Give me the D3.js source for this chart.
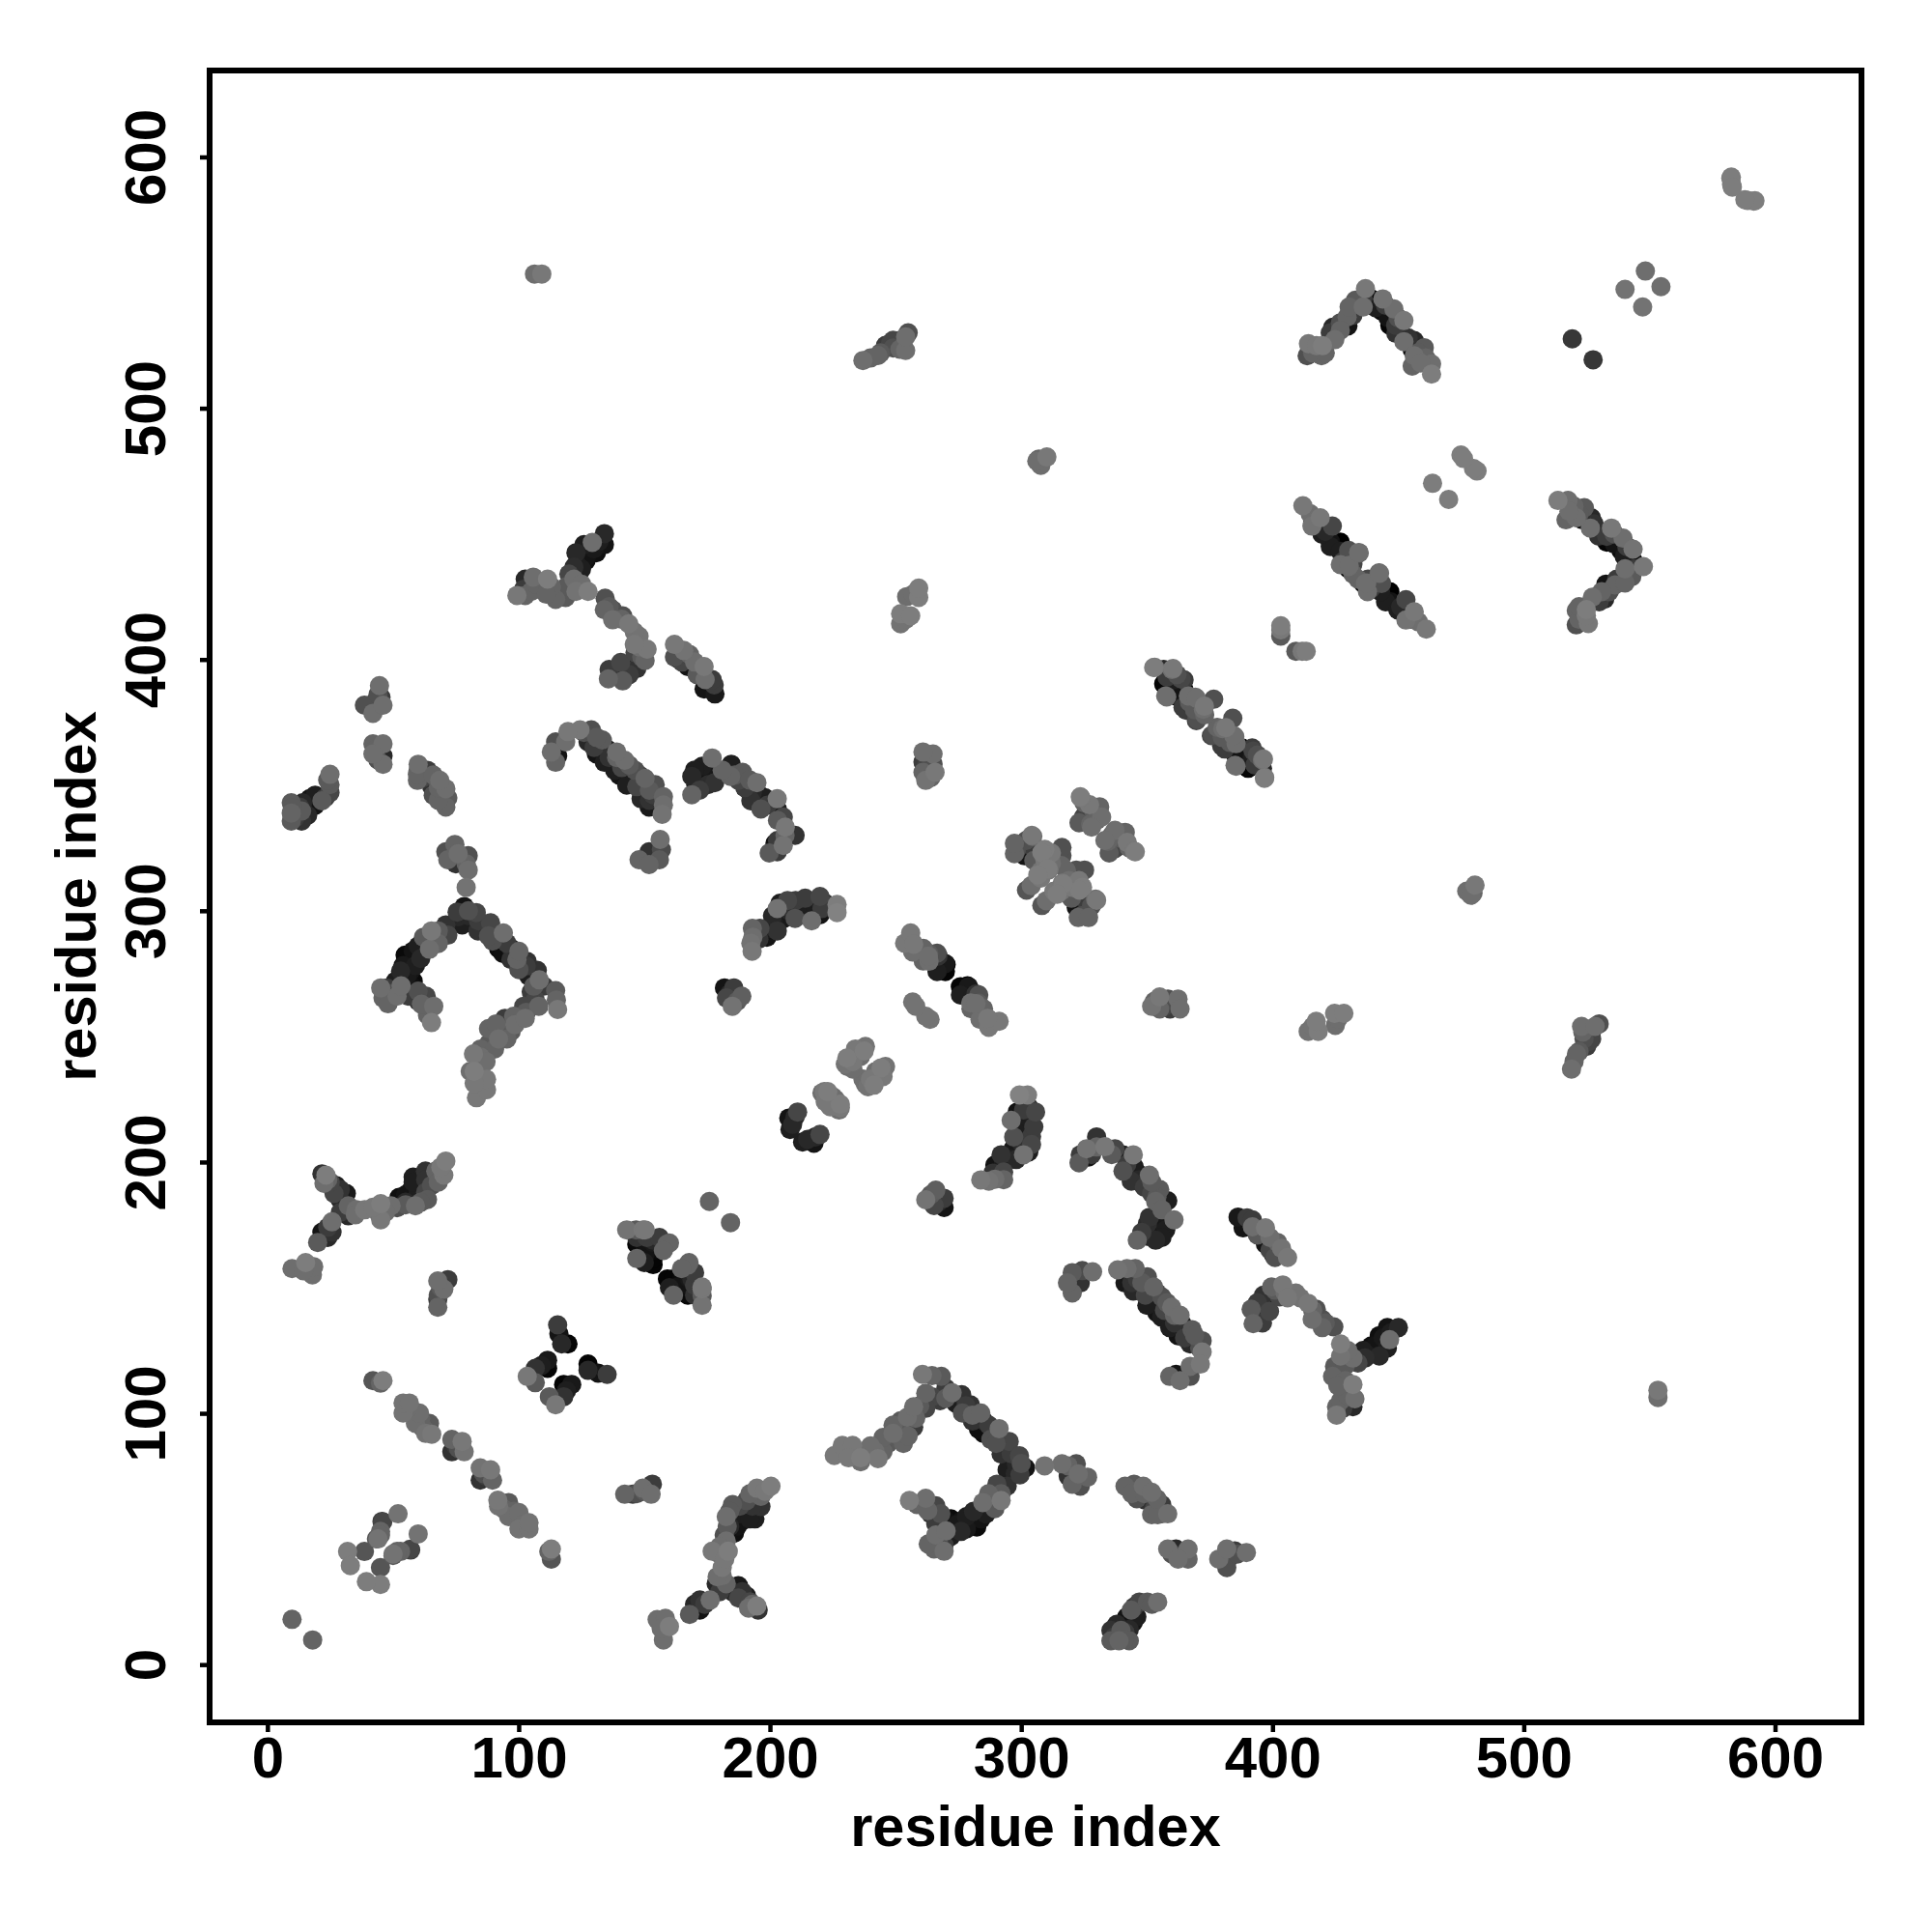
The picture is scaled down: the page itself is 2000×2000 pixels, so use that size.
<!DOCTYPE html>
<html><head><meta charset="utf-8">
<script src="https://cdn.jsdelivr.net/npm/d3@7"></script>
<style>html,body{margin:0;background:#fff}svg{display:block}text{font-family:"Liberation Sans",Arial,sans-serif;font-weight:bold;fill:#000}</style>
</head><body><svg id="c" width="2000" height="2000"></svg>
<script>
// Each contact is [residue i, residue j, grey level]; the map is symmetric, so each is also plotted as (j, i).
const tickValues = [0,100,200,300,400,500,600];
const axisTitle = "residue index";
const nearPairs = [[18,9.8,100],[184.3,175.9,100],[527.6,519.3,55],[554.6,548.4,110],[547.3,540.3,115],[591.5,582.4,125],[589.1,582.7,125],[592,582.6,125],[588,583,125],[481.4,475,125],[480,476,125],[470.1,463.7,125],[411.8,403.3,120],[409.3,403.3,90],[413.4,403.3,125],[553.4,109.2,120],[553.4,106.3,110],[477.3,307.8,110],[480.6,310.2,120],[479.8,307,100],[479,306.2,110]];
const groupB = [[45,31.9,125],[39.4,33,125],[45,38.6,85],[50,44,115],[53,45,100],[57,45.6,60],[60,52,115],[50,43.4,90],[51.6,45,100],[56.8,45.9,70]];
const groupC = [[113,42,85],[113,46,125],[112,45,100],[84.7,73.4,50],[89.6,73.4,100],[84.7,78.3,115],[88.8,77.5,120],[91.7,65.4,120],[96,64.5,90],[92,63,115],[96,58.9,110],[100.1,60.5,110],[100.1,54,115],[104.1,54,115],[104.1,56.5,115],[86,76,80],[94,62,100],[98,61,100],[102,56,110],[87,75,60]];
const groupD = [[142.2,67.8,100],[145.4,67.8,60],[149.4,70.2,110],[152.7,67.8,110],[153.2,71.8,60],[147,68,80],[150,69,90]];
const groupE = [[155.1,17.9,110],[158.4,18.4,110],[157.6,9.8,110],[156.7,14.4,110],[160,15.2,125],[168,20,90],[172.1,25.7,50],[172.1,21.7,20],[176.2,25.7,110],[178.6,32.2,40],[182.6,32.2,100],[187.5,26.5,70],[187.5,31.4,25],[190.7,27.3,30],[195.3,21.7,50],[191.5,22.5,110],[194.8,23.3,125],[181,35.4,110],[181,38.7,120],[177,45.1,120],[179.4,44.3,110],[183.4,45.1,125],[181.8,51.6,80],[182.6,49.2,110],[185.9,52.4,15],[185.1,63.7,90],[182.6,58.9,110],[185.1,59.7,10],[189.1,57.3,20],[194,58,30],[191.5,61.3,10],[190.7,65.3,80],[196.4,62.9,50],[196.4,67,100],[194.8,70.2,120],[200.4,71,125],[170,24,40],[174,24,60],[180,29,60],[185,29,40],[189,29,50],[192,25,70],[193,24,100],[179,35,110],[182,42,120],[180,47,110],[184,55,40],[187,55,20],[188,60,30],[192,58,30],[193,63,50],[188,63,70],[184,61,90],[192,68,100],[198,69,120],[183,55,90]];
const groupF = [[114.7,103.4,120],[112.2,106.6,90],[117.9,106.6,50],[119,109,30],[117.9,111.5,5],[121.1,111.5,25],[127.6,117.1,40],[127.6,119.6,5],[131.6,116,20],[135.2,115.5,60]];
const groupG = [[173,143,115],[173,146.7,90],[173,149.5,120],[173,150.3,120],[168.9,153.5,40],[168,153.5,25],[167.8,160,100],[167.3,159,100],[166.5,147.9,10],[167.3,147,5],[162.4,149.5,15],[163.2,150.3,20],[159.2,153.5,5],[161.6,153.5,5],[161.6,147,100],[164.8,157.6,100],[170,147,50],[170,151,60],[165,150,15],[165,154,10],[160,150,30],[170,156,60]];
const groupO = [[217.5,207.5,20],[218,210,40],[219.9,211,70],[227.5,220.7,110],[228,223,125],[228,221.6,120],[238,231,110],[239,230,115],[241,232,120],[243,234,110],[244.2,237.5,125],[241.4,230.6,125],[213,208,30],[215,209,40],[224,222,120],[226,225,110],[240,233,120],[245,234,120],[237,233,110],[242,236,110],[246,238,115]];
const groupP = [[263.7,256.8,115],[283.6,256.8,110],[287.1,253.6,120],[287.1,256.8,110],[291.2,256,120],[279.9,263.3,110],[283,263.2,90],[282,263,110],[275.8,266.5,30],[276.2,266.9,10],[280.7,265.7,30],[283.1,266.5,80],[282,266.9,50],[275.8,269.8,5],[279,269.8,25],[278.6,270.1,0],[286.7,257.2,120],[285,261,100],[280,261,100],[279,267,15],[262,258,115]];
const groupQ = [[345.4,323.5,125],[342.2,327.2,120],[341.4,331.2,100],[337.3,332,110],[337.3,324.8,70],[333.3,328,110],[341,331,80],[337.7,325.2,30],[334.5,327.6,100],[345,323.7,120],[343,325,100],[339,329,90],[336,330,100],[335,323,90]];
const groupQ2 = [[322.7,297.3,100],[326.8,297.3,100],[326,300.5,0],[321.9,301.3,20],[326.4,299.3,5],[326,303.7,60],[330,304.2,120],[324.4,309.4,125],[320.3,309.4,120],[308.2,302.1,85],[313,307.8,120],[315.9,307.8,115],[316.3,311,120],[321.9,316.2,80],[325.2,316.2,80],[323.2,308.2,125],[316.7,310.6,125],[314.3,306.6,125],[329.6,304.6,110],[318,316,100],[310,304,110],[319,312,110],[323,312,120],[320,305,90],[328,302,80],[324,298,80]];
const groupR = [[376.2,370,80],[380.2,372.5,110],[384.2,376.6,80],[385,369.3,110],[381,364.4,60],[385.1,362.8,20],[387.5,364.4,5],[389.1,361.2,5],[392.3,363.6,70],[385.1,357.9,110],[389.9,357.1,5],[396.4,360.4,120],[396.9,353.1,120],[396.8,352.7,125],[396,356.7,40],[396,360,110],[390.3,356.7,5],[391.9,360.8,30],[391.9,364.8,60],[387.9,364.8,5],[385.5,361.6,10],[385.5,357.5,110],[385.5,366.5,110],[384.6,369.7,110],[381.4,372.9,120],[379.8,365.6,60],[375.7,369.7,70],[383,367,90],[388,360,20],[393,358,60],[378,373,100],[394,362,80],[380,369,90]];
const groupS = [[351.9,262,115],[355.1,265.7,120],[358.4,264.9,80],[355.1,260.9,100],[359.2,260.9,60],[362.4,264.9,110],[363.2,260.9,110],[357,262,70],[361,263,50],[353,264,100]];
const groupT = [[414.2,252,115],[418.2,252,125],[417.4,256,125],[425,254.4,110],[424.7,259.2,125],[428.4,259.2,125],[416,254,115],[426,257,110]];
const groupU = [[519,237,110],[520,240,100],[522,244,90],[525,246,60],[527,249,70],[527,252,40],[523,254,110],[523.5,251.7,100],[530,255,80],[528.4,254,110],[526,248,70],[521,243,100],[524,249,80]];
const groupI = [[260.7,115.5,120],[264.5,115,100],[268.2,114.7,90],[264.5,106.6,70],[267.7,105,60],[272.5,108.2,110],[276.3,107.4,50],[279.8,103.4,50],[276.6,100.1,80],[280.6,99.3,100],[283.9,100.1,100],[280.6,96.9,50],[283,93.7,15],[287.1,95.3,60],[291.2,93.9,110],[287.9,89.6,80],[295.2,88.8,70],[292,83.8,50],[299.3,83.1,70],[294.4,77.5,30],[297.6,75.9,40],[299.5,75.5,60],[301.7,78.3,20],[270,110,60],[274,104,30],[278,103,60],[282,98,40],[285,97,30],[285,92,10],[289,92,50],[293,87,30],[296,84,60],[298,80,40],[300,80,80],[290,88,80],[270,106,90],[262,108,100]];
const groupI2 = [[225.6,83.2,120],[228.8,87.2,120],[232.9,87.2,120],[231.3,82.3,120],[236.1,80.7,110],[236.1,82.3,125],[241.8,84.8,110],[245,84.8,100],[245,90.4,100],[249,95.3,100],[253.1,88,100],[252.3,94.5,80],[257.2,94.5,60],[254.7,98.5,110],[257.2,102.6,110],[259.6,103,90],[240,87,110],[247,88,90],[250,90,70],[255,91,100],[249,92,110],[258,98,100],[262,102,70],[243,82,120],[252,97,90]];
const groupI3 = [[309.3,79.1,115],[316.2,79.9,110],[318.7,79.1,100],[321.9,79.9,80],[318.7,75,50],[320.3,71.8,100],[323.5,71,80],[322.7,75.9,110],[326.4,74.6,100]];
const groupI4 = [[290.3,71.8,70],[294.4,71,50],[292,65.3,120],[289.5,62.1,90],[284.7,64.5,110],[283,60.5,15],[278.2,58.9,30],[282.3,54.8,10],[278.2,54,25],[274.2,55.6,25],[270.1,57.3,15],[258.5,63.7,100],[255.5,65.3,125],[262,66.2,110],[266,63.2,70],[262.8,61.3,100],[266,51.6,110],[265.3,46,100],[269.3,45.1,110],[269.3,47.5,60],[268.5,50.8,30],[270.1,53.2,110],[287,68,100],[292,68,90],[288,64,60],[286,60,30],[281,61,40],[280,57,10],[276,57,20],[284,58,20],[272,58,10],[276,53,40],[272,51,30],[266,56,60],[264,60,50],[268,60,80],[267,49,80],[263,48,100]];
const groupJ = [[262,185,115],[266,188.8,95],[265.3,182.7,70],[269.3,185.6,60],[269.3,181.9,20],[264,187,90],[267,184,40]];
const groupK = [[283.9,192.9,120],[287.1,192.4,115],[289.5,193.2,110],[288.7,195.6,50],[289.5,198.8,20],[292,202.9,50],[292.8,198.8,30],[296,201.3,30],[296.8,205.3,25],[300,207.7,40],[300.9,202.9,115],[304.1,207,70],[304.1,210.2,60],[296,216.6,110],[301.7,216.6,30],[298.4,219.9,20],[300.9,220.7,60],[305.7,219.9,70],[299.3,226.7,130],[302.5,226.7,125],[293,196,70],[298,201,40],[302,206,50],[303,204,30],[299,211,30],[302,212,25],[305,214,60],[297,210,80],[303,222,50],[293,193,100]];
const groupL1 = [[323,199.7,90],[323.5,202.9,60],[326,205.3,115],[326.8,202,20],[330,206,100],[330,210,50],[333.3,206.1,120],[337.3,205.3,70],[340.5,202.9,30],[344.6,202.9,120],[340.5,196.4,80],[346.2,195.6,25],[343.8,192.4,50],[347.8,191.6,10],[351,194.8,110],[351.9,187.5,70],[355.1,189.1,90],[353.5,184.3,100],[358.3,184.6,30],[346.2,168.9,100],[350.2,170.5,30],[353.5,168.9,40],[350.2,175.4,45],[355.9,177,25],[357.5,173,30],[360.8,177,110],[328,203,60],[336,203,90],[342,199,60],[345,198,30],[347,193,40],[349,190,60],[354,186,90],[352,192,90],[356,181,100],[351,178,50],[353,173,20],[356,170,30],[348,172,60]];
const groupL2 = [[320.3,147.9,100],[318.4,151.9,100],[320.3,156,90],[323.5,151.9,50],[324.3,156.8,75],[328.4,156.3,110],[338.4,157.1,115],[342.1,157.6,110],[345.4,157.6,100],[341.3,151.9,25],[346.2,153.5,60],[350.2,154.3,80],[344.6,148.7,40],[352.7,150.3,100],[349.4,147,70],[351.9,143.8,15],[355.9,146.3,80],[359.9,142.2,110],[355.9,138.2,30],[363.2,139,110],[359.1,134.1,30],[364,135.7,30],[368,133.3,90],[362.4,130.9,20],[367.2,127.6,40],[372,128.9,80],[372,124.4,120],[371.3,119.6,120],[367.2,118.7,110],[359.1,114.7,100],[361.6,115.5,20],[363.2,113,110],[367.2,114.7,80],[347,149,20],[350,143,30],[354,140,20],[357,141,70],[361,136,50],[365,130,60],[369,131,90],[371,126,80],[344,152,50],[348,152,90],[354,148,60],[358,144,90],[361,139,100]];
const groupM1 = [[386.3,178.1,25],[389.9,177.8,60],[388.3,173.8,20],[392,174.2,110],[397.2,173.8,120],[397.2,167.3,20],[400.4,163.2,30],[401,162,80],[403.6,165.7,115],[406,162,120],[394,171,90],[399,165,70],[402,168,100],[399,170,110],[392,177,60]];
const groupM2 = [[391.5,141.4,90],[392.3,135.7,100],[395.6,138.2,25],[396.4,147,50],[398.8,140.6,70],[399.6,150.3,100],[402.8,146.3,70],[404.1,151.1,120],[409.3,147.9,115],[414.2,143.8,120],[417.4,141.4,80],[415.8,137.4,110],[419.8,137.4,80],[419.8,134.1,100],[424.4,134.4,80],[394,144,60],[394,140,20],[397,143,30],[401,149,90],[405,148,110],[406,146,120],[411,146,115],[416,141,100],[421,136,90],[396,136,60]];
const groupM3 = [[425.5,99.3,120],[425.5,102.6,100],[427.1,105,100],[432,102.6,40],[432.8,105.8,110],[432,111.5,125],[423.9,114.7,100],[427.1,117.1,20],[424.7,118.7,90],[427.1,122.8,115],[427.1,127.6,125],[432,122,110],[436.8,122,45],[439.3,126.8,15],[442.5,122.8,40],[445.7,126,30],[442.5,130.9,15],[446.6,129.3,110],[445.7,134.1,20],[450.1,134.1,40],[428,102,60],[430,107,100],[429,113,100],[426,111,100],[427,120,40],[425,116,80],[429,119,90],[434,120,70],[438,123,30],[441,127,20],[444,130,25],[447,132,30],[430,125,110],[436,125,30]];
const groupN = [[341.3,71,100],[344.9,71.8,90],[348.6,71,110],[351.9,68.6,110],[349.4,65.4,50],[355.9,63.7,60],[351.9,59.7,100],[354.3,59.7,100],[358.3,60,110],[358.3,46,110],[361.6,46,40],[366.4,46,110],[362.4,42,110],[366.4,42,100],[378.6,42,110],[381.8,38.6,80],[381.8,41,70],[381.8,46,110],[385,45.2,60],[389.6,44.6,110],[344,68,100],[346,66,80],[349,68,100],[354,66,100],[353,62,70],[356,60,90],[383,43,60],[386,44,80],[364,43,100],[360,44,80]];
const groupN2 = [[335.7,9.5,90],[338.9,9.5,100],[343,9.5,90],[335.7,13.6,50],[339.7,13.6,90],[341.3,12.8,60],[340.5,16.8,15],[344.6,16.8,20],[343.8,21.7,90],[347,24.9,70],[350.2,24.9,90],[354.3,24.9,110],[337,11,60],[341,10,90],[343,14,40],[342,19,20],[346,19,30],[345,23,60],[352,24,90],[338,16,40]];
const groupY = [[413.8,520.9,80],[414.3,525.7,120],[417.5,524.9,120],[419.5,520.9,100],[419.9,524.9,125],[424,532.2,40],[424.8,527.3,110],[429.7,536.3,100],[430,532.7,20],[430.5,540.3,100],[434.5,541.1,70],[436.1,540.3,110],[437,547.6,120],[439.4,543.5,10],[443.4,538.7,10],[443.9,543.5,115],[448.3,539.5,110],[446.7,533,5],[449.1,529.8,50],[452.3,534.9,120],[452.3,526.5,110],[455.6,523.3,10],[456.4,526.9,40],[456.4,520.9,110],[460.4,524.1,90],[455.6,516.8,100],[463.3,517.6,110],[463.3,513.6,125],[416,522,100],[421,522,100],[423,530,60],[427,531,100],[427,534,80],[432,537,60],[433,543,90],[436,544,60],[441,540,30],[446,536,20],[445,541,60],[450,536,80],[449,533,60],[451,530,30],[454,528,50],[458,522,90],[459,518,110],[461,520,100]];
const groupZ = [[436.1,430.3,5],[437,430.3,110],[437.8,427,110],[437.5,430.5,110],[438,432,70],[442.4,434.5,100],[443.4,430.3,80],[442.6,434.3,110],[445,423,30],[446.7,427,0],[449.9,419.7,30],[453.1,423.8,70],[453.1,415.7,115],[456.4,419,120],[461.2,412.1,120],[440,431,60],[447,423,20],[451,421,40],[455,416,80],[458,415,110],[443,427,30],[441,429,10],[434,432,100],[439,428,60]];
const groups = [nearPairs,groupB,groupC,groupD,groupE,groupF,groupG,groupO,groupP,groupQ,groupQ2,groupR,groupS,groupT,groupU,groupI,groupI2,groupI3,groupI4,groupJ,groupK,groupL1,groupL2,groupM1,groupM2,groupM3,groupN,groupN2,groupY,groupZ];

const svg = d3.select("#c");
const x = d3.scaleLinear().domain([-23,634.4]).range([217,1927]);
const y = d3.scaleLinear().domain([-23,634.4]).range([1783,73]);
const points = groups.flatMap(g => g.flatMap(([i,j,s]) => [[i,j,s],[j,i,s]]))
  .sort((a,b) => d3.ascending(a[2],b[2]));

svg.append("g").selectAll("circle").data(points).join("circle")
  .attr("cx", d => x(d[0])).attr("cy", d => y(d[1])).attr("r", 10)
  .attr("fill", d => d3.rgb(d[2],d[2],d[2]));

const xa = svg.append("g").attr("transform","translate(0,1783)")
  .call(d3.axisBottom(x).tickValues(tickValues).tickFormat(d3.format("d")).tickSize(10));
const ya = svg.append("g").attr("transform","translate(217,0)")
  .call(d3.axisLeft(y).tickValues(tickValues).tickFormat(d3.format("d")).tickSize(10));
[xa,ya].forEach(a => { a.select(".domain").remove(); a.selectAll("line").attr("stroke","#000").attr("stroke-width",4.5); a.selectAll("text").style("font-size","60px").style("font-family",'"Liberation Sans"').style("font-weight","bold"); });
xa.selectAll("text").attr("y",57).attr("dy",0);
ya.selectAll("text").attr("x",0).attr("y",0).attr("dy",0).attr("text-anchor","middle")
  .attr("transform","translate(-46,0) rotate(-90)");

svg.append("rect").attr("x",217).attr("y",73).attr("width",1710).attr("height",1710).attr("fill","none").attr("stroke","#000").attr("stroke-width",6);
svg.append("text").attr("x",1072).attr("y",1911).attr("text-anchor","middle").style("font-size","59.5px").text(axisTitle);
svg.append("text").attr("transform","translate(99,928) rotate(-90)").attr("text-anchor","middle").style("font-size","59.5px").text(axisTitle);
</script></body></html>
